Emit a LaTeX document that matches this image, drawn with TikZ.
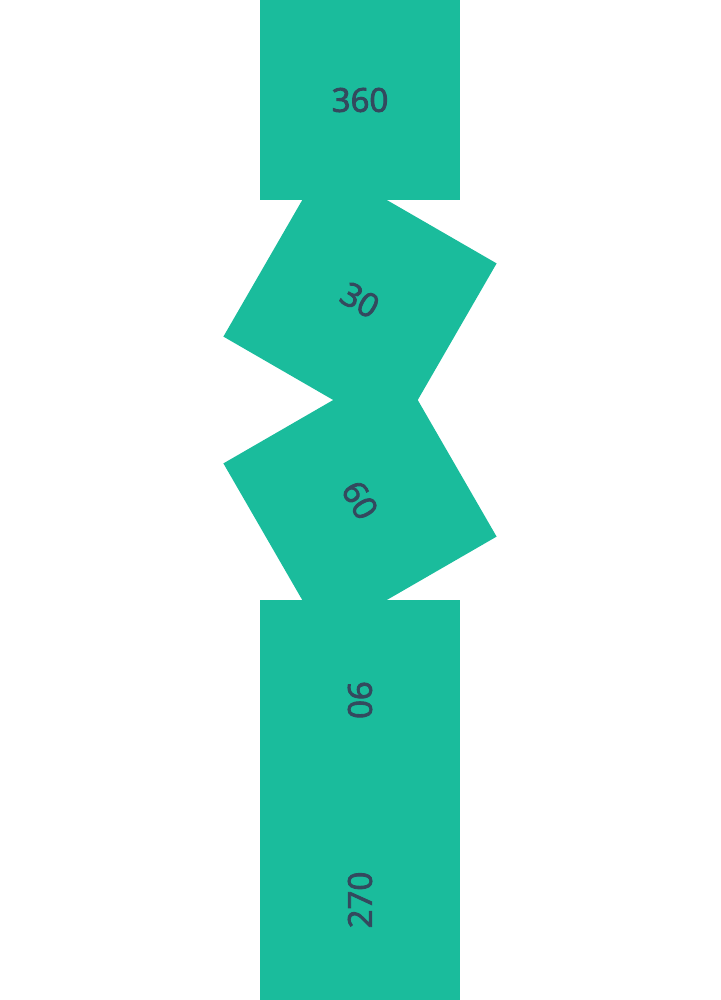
\documentclass[tikz,border=0pt]{standalone}
\usepackage{fontspec}
\setmainfont{Open Sans}
\newfontfamily\tilefont{Open Sans}[FakeBold=2.6]
\usepackage{tikz}
\definecolor{tilegreen}{HTML}{1ABC9C}
\definecolor{tiletext}{HTML}{34495E}
\tikzset{
    tile/.style={
        rectangle,
        fill=tilegreen,
        text=tiletext,
        minimum size=200pt,
        inner sep=0pt,
        font=\tilefont\fontsize{33}{40}\selectfont
    }
}

\begin{document}
\begin{tikzpicture}[x=1pt,y=-1pt]

% Canvas
\useasboundingbox (0,0) rectangle (720,1000);

% Tiles, each turned by its own angle
\node[tile, rotate=-360] (t360) at (360,100) {360};
\node[tile, rotate=-30] (t30) at (360,300) {30};
\node[tile, rotate=-60] (t60) at (360,500) {60};
\node[tile, rotate=-90] (t90) at (360,700) {90};
\node[tile, rotate=-270] (t270) at (360,900) {270};

\end{tikzpicture}
\end{document}
